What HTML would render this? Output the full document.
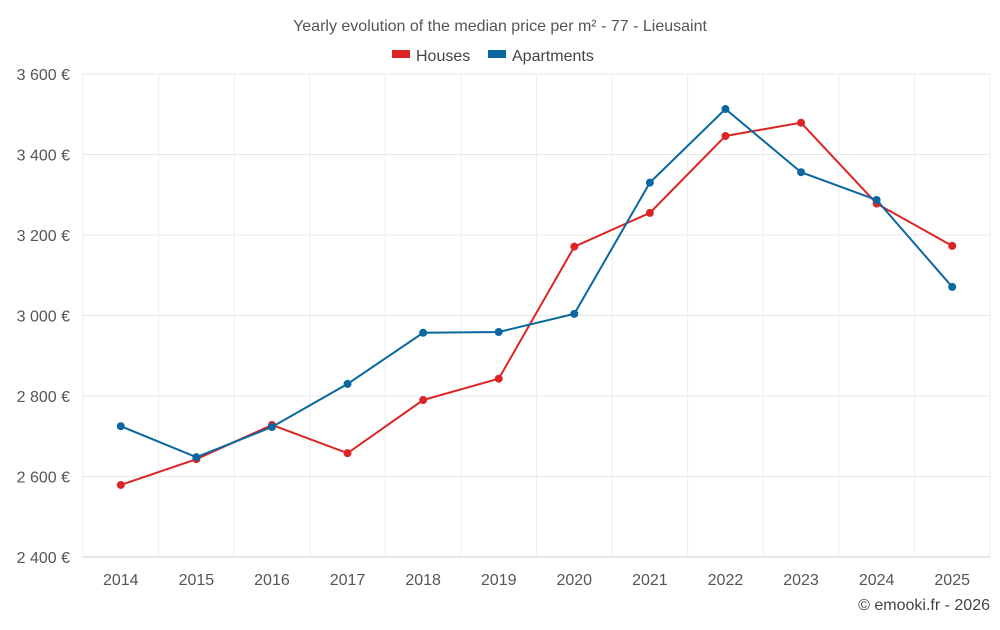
<!DOCTYPE html>
<html><head><meta charset="utf-8"><style>
body{margin:0;background:#fff;font-family:"Liberation Sans",sans-serif;}
svg text{font-family:"Liberation Sans",sans-serif;}
</style></head><body>
<svg id="chart" width="1000" height="625">
<text x="500" y="31" text-anchor="middle" font-size="16" fill="#555">Yearly evolution of the median price per m² - 77 - Lieusaint</text>
<g>
<rect x="392" y="50" width="18" height="8" fill="#dd2424"/>
<text x="416" y="61" font-size="16" fill="#444">Houses</text>
<rect x="488" y="50" width="18" height="8" fill="#0a679f"/>
<text x="512" y="61" font-size="16" fill="#444">Apartments</text>
</g>
<g id="grid"></g><g id="series"></g>
<text x="990" y="610" text-anchor="end" font-size="16" fill="#444">© emooki.fr - 2026</text>
</svg>
<script>
const years=["2014","2015","2016","2017","2018","2019","2020","2021","2022","2023","2024","2025"];
const houses=[2579,2643,2728,2658,2790,2843,3171,3255,3446,3479,3278,3173];
const apartments=[2725,2648,2723,2830,2957,2959,3004,3330,3513,3356,3287,3071];
const yTicks=[2400,2600,2800,3000,3200,3400,3600];
const L=83,R=990,T=74,B=557,ymin=2400,ymax=3600;
const step=(R-L)/years.length;
const x=i=>L+step*(i+0.5);
const y=v=>B-(v-ymin)/(ymax-ymin)*(B-T);
const ns="http://www.w3.org/2000/svg";
const grid=document.getElementById('grid'),ser=document.getElementById('series');
function mk(tag,at,p){const e=document.createElementNS(ns,tag);for(const k in at)e.setAttribute(k,at[k]);p.appendChild(e);return e;}
yTicks.forEach(v=>{
 const l=mk('line',{x1:L,x2:R,y1:y(v),y2:y(v),stroke:v===ymin?'#ccc':'#e8e8e8'},grid);
 
 
 const t=mk('text',{x:70,y:y(v)+6,'text-anchor':'end','font-size':16,fill:'#555'},grid);
 t.textContent=v.toString().replace(/\B(?=(\d{3})+$)/,' ')+' €';
 
 
});
for(let i=0;i<=years.length;i++){
 const l=mk('line',{x1:L+step*i,x2:L+step*i,y1:T,y2:B,stroke:'#eee'},grid);
 
 
}
years.forEach((yr,i)=>{
 const t=mk('text',{x:x(i),y:585,'text-anchor':'middle','font-size':16,fill:'#555'},grid);
 t.textContent=yr;
 
 
});
[[houses,'#dd2424','houses'],[apartments,'#0a679f','apartments']].forEach(([d,c,n])=>{
 const p=mk('polyline',{points:d.map((v,i)=>x(i)+','+y(v)).join(' '),fill:'none',stroke:c,'stroke-width':2},ser);
 
 
 d.forEach((v,i)=>{
  const pt=mk('circle',{cx:x(i),cy:y(v),r:4,fill:c},ser);
  
  
 });
});
</script>
</body></html>
